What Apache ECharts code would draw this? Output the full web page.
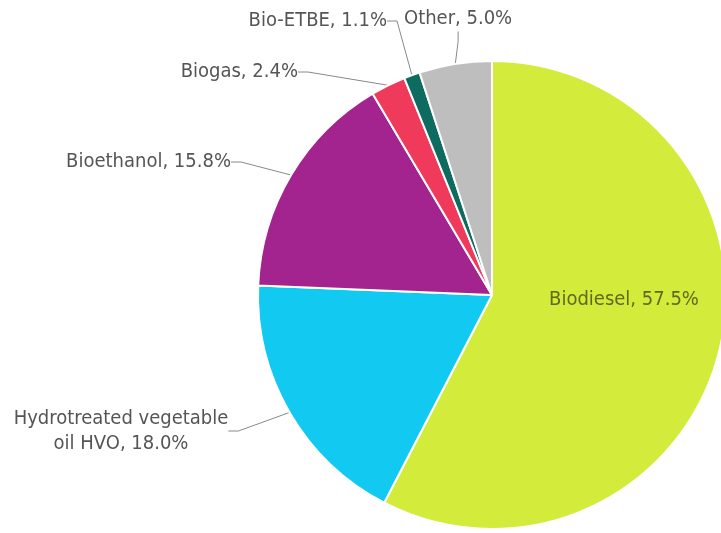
<!DOCTYPE html>
<html>
<head>
<meta charset="utf-8">
<script src="https://cdn.jsdelivr.net/npm/echarts@6/dist/echarts.min.js"></script>
<style>
  html, body { margin: 0; padding: 0; background: #fff; }
  #chart { width: 721px; height: 533px; }
</style>
</head>
<body>
<div id="chart"></div>
<script>
// Shares of renewable fuels
const categories = ['Biodiesel', 'Hydrotreated vegetable\noil HVO', 'Bioethanol', 'Biogas', 'Bio-ETBE', 'Other'];
const shares = [57.5, 18.0, 15.8, 2.4, 1.1, 5.0];
const colors = ['#d3eb3b', '#12c9f2', '#a3238f', '#f03a5c', '#0d6b60', '#bebebe'];

// label anchor points (x, y, align) per slice
const labelSpots = [
  { x: 624, y: 300, align: 'center' },
  { x: 121, y: 431, align: 'center' },
  { x: 231, y: 162, align: 'right' },
  { x: 298, y: 72, align: 'right' },
  { x: 387, y: 21, align: 'right' },
  { x: 404, y: 19, align: 'left' }
];

const chart = echarts.init(document.getElementById('chart'), null, { renderer: 'canvas' });

const data = categories.map((name, i) => ({
  name: name,
  value: shares[i],
  itemStyle: { color: colors[i] },
  label: i === 0 ? { position: 'inside', color: '#5d6a1c' } : {},
  labelLine: { show: i !== 0 }
}));

chart.setOption({
  animation: false,
  series: [{
    type: 'pie',
    center: [492, 295],
    radius: 234,
    startAngle: 90,
    clockwise: true,
    data: data,
    itemStyle: { borderColor: '#fff', borderWidth: 2 },
    label: {
      show: true,
      formatter: p => p.name + ', ' + p.value.toFixed(1) + '%',
      fontFamily: 'DejaVu Sans Condensed',
      fontSize: 20,
      color: '#555',
      lineHeight: 25
    },
    labelLine: {
      show: true,
      length: 10,
      length2: 10,
      lineStyle: { color: '#888', width: 1 }
    },
    labelLayout: function (params) {
      const s = labelSpots[params.dataIndex];
      return { x: s.x, y: s.y, align: s.align, verticalAlign: 'middle' };
    }
  }]
});
</script>
</body>
</html>
